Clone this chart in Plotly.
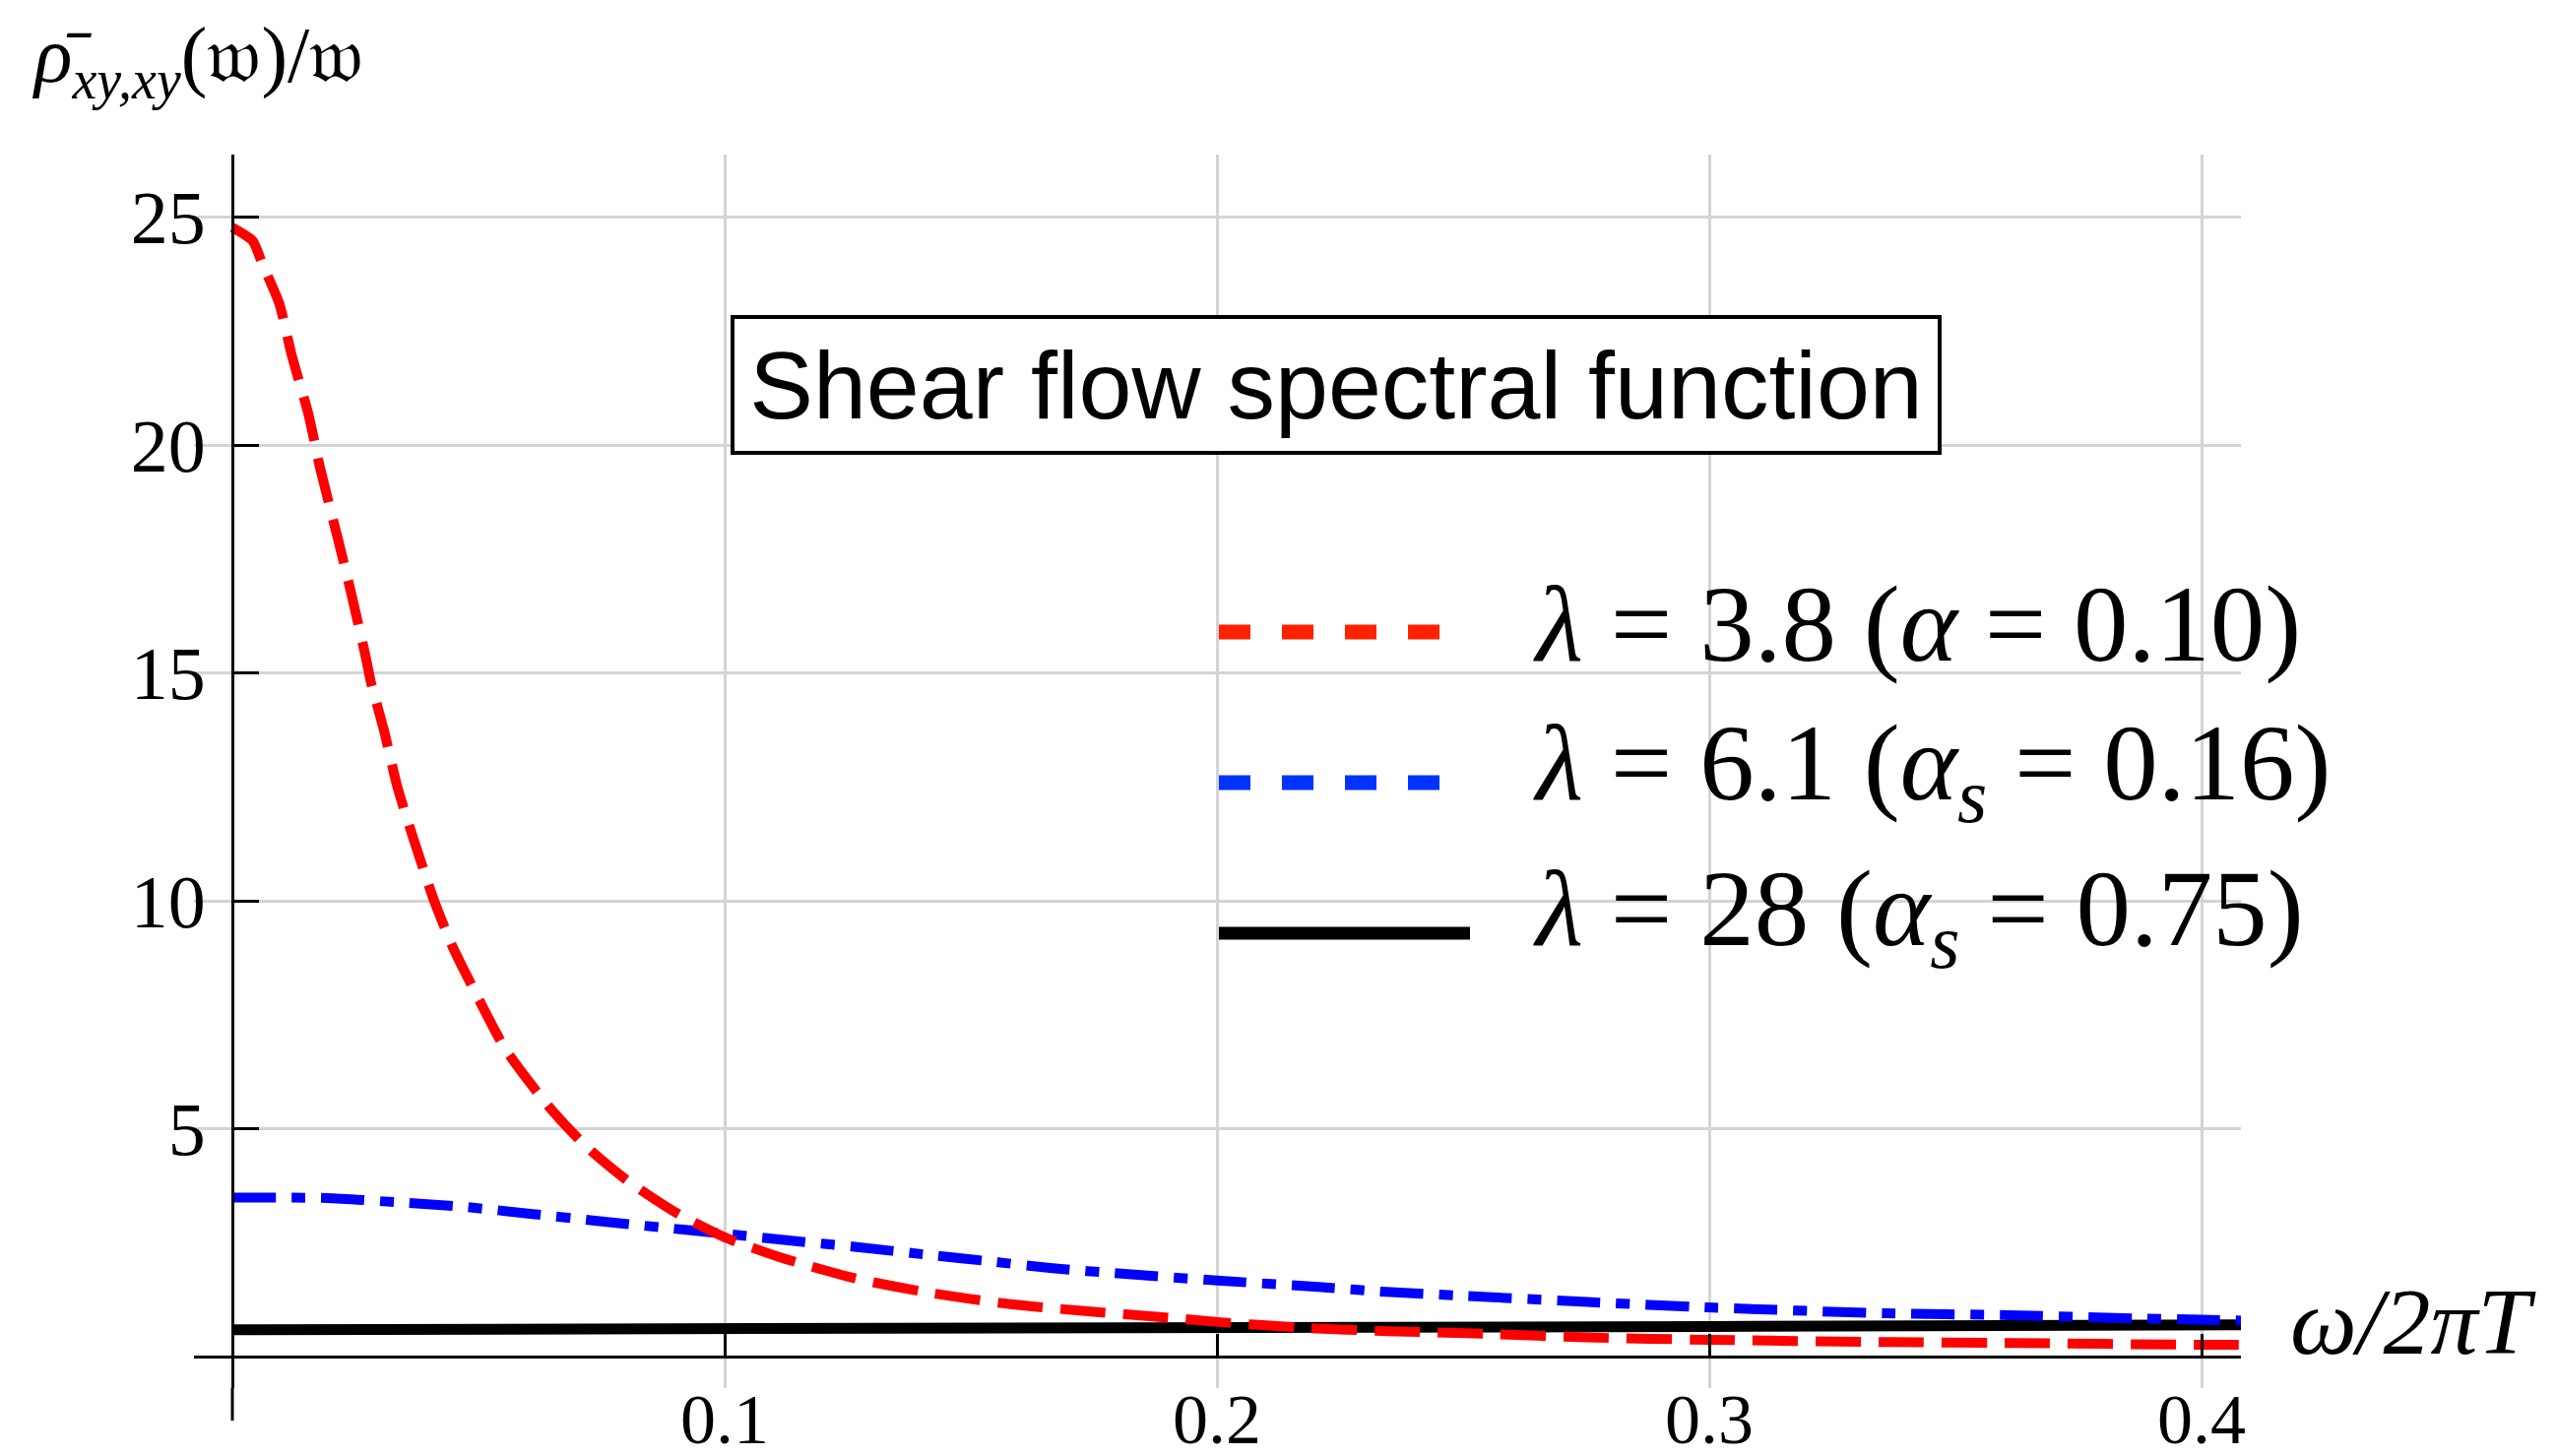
import plotly.graph_objects as go

# ---- data ----
x_red = [0.0, 0.0041, 0.0061, 0.0095, 0.0121, 0.0155, 0.0178, 0.0215, 0.0241, 0.0271,
         0.0281, 0.0308, 0.0335, 0.0368, 0.0408, 0.0448, 0.0488, 0.0555, 0.0641, 0.0715,
         0.0804, 0.0906, 0.0998, 0.111, 0.1264, 0.1416, 0.158, 0.1732, 0.1895, 0.2001,
         0.2181, 0.2344, 0.2548, 0.2752, 0.2998, 0.3357, 0.361, 0.4, 0.408]
y_red = [24.78, 24.49, 23.98, 23.12, 21.96, 20.66, 19.51, 17.92, 16.77, 15.35,
         14.82, 13.74, 12.51, 11.36, 10.06, 8.98, 8.11, 6.74, 5.51, 4.65,
         3.85, 3.13, 2.63, 2.19, 1.72, 1.40, 1.15, 1.00, 0.86, 0.76,
         0.63, 0.56, 0.50, 0.42, 0.37, 0.32, 0.30, 0.26, 0.26]

x_blue = [0.0, 0.0192, 0.0345, 0.0478, 0.061, 0.0732, 0.0866, 0.0998, 0.113, 0.1264,
          0.1416, 0.1548, 0.1666, 0.1806, 0.2001, 0.2206, 0.2344, 0.2508, 0.2752, 0.2998,
          0.3357, 0.361, 0.3862, 0.4, 0.408]
y_blue = [3.49, 3.48, 3.38, 3.28, 3.13, 2.99, 2.84, 2.70, 2.55, 2.41,
          2.23, 2.08, 1.94, 1.82, 1.67, 1.53, 1.42, 1.33, 1.20, 1.08,
          0.95, 0.91, 0.84, 0.81, 0.79]

x_black = [0.0, 0.1, 0.2, 0.3, 0.408]
y_black = [0.59, 0.60, 0.63, 0.66, 0.70]

x_ticks = [0.1, 0.2, 0.3, 0.4]
x_ticklabels = ["0.1", "0.2", "0.3", "0.4"]
y_ticks = [5, 10, 15, 20, 25]
y_ticklabels = ["5", "10", "15", "20", "25"]

series_names = ["λ = 3.8 (α = 0.10)", "λ = 6.1 (α_s = 0.16)", "λ = 28 (α_s = 0.75)"]
legend_labels = ["<i>λ</i> = 3.8 (<i>α</i> = 0.10)",
                 "<i>λ</i> = 6.1 (<i>α<sub>s</sub></i> = 0.16)",
                 "<i>λ</i> = 28 (<i>α<sub>s</sub></i> = 0.75)"]
title_text = "Shear flow spectral function"
y_title = "<i>ρ̄</i><sub><i>xy,xy</i></sub>(𝔴)/𝔴"
x_title = "<i>ω/2πT</i>"

# ---- layout geometry ----
W, H = 2596, 1479
L, R, T, B = 197, 2276, 157, 1410
x_range = [-0.0078, 0.408]
y_range = [-0.69, 26.38]


def px_x(p):
    return (p - L) / (R - L)


def px_y(p):
    return (B - p) / (B - T)


SERIF = "Liberation Serif, Times New Roman, serif"
SANS = "Liberation Sans, Arial, sans-serif"

fig = go.Figure()
fig.add_trace(go.Scatter(x=x_black, y=y_black, mode="lines", name=series_names[2],
                         line=dict(color="black", width=11)))
fig.add_trace(go.Scatter(x=x_blue, y=y_blue, mode="lines", name=series_names[1],
                         line=dict(color="#0000ff", width=10, dash="44px,16px,14px,16px",
                                   shape="spline", smoothing=0.6)))
fig.add_trace(go.Scatter(x=x_red, y=y_red, mode="lines", name=series_names[0],
                         line=dict(color="#ff0000", width=10, dash="46px,18px",
                                   shape="spline", smoothing=0.6)))

x_axis_pos = (0 - y_range[0]) / (y_range[1] - y_range[0])
y_axis_pos = (0 - x_range[0]) / (x_range[1] - x_range[0])

fig.update_layout(
    width=W, height=H,
    margin=dict(l=L, r=W - R, t=T, b=H - B, autoexpand=False),
    paper_bgcolor="white", plot_bgcolor="white",
    showlegend=False,
    xaxis=dict(range=x_range, tickvals=x_ticks, ticktext=x_ticklabels,
               showgrid=True, gridcolor="#d4d4d4", gridwidth=2.5, zeroline=False,
               showline=True, linecolor="black", linewidth=3,
               anchor="free", position=x_axis_pos,
               ticks="inside", ticklen=22, tickwidth=2.5, tickcolor="black",
               tickfont=dict(family=SERIF, size=72, color="black"),
               ticklabelstandoff=0),
    yaxis=dict(range=y_range, tickvals=y_ticks, ticktext=y_ticklabels,
               showgrid=True, gridcolor="#d4d4d4", gridwidth=2.5, zeroline=False,
               showline=True, linecolor="black", linewidth=3,
               anchor="free", position=y_axis_pos,
               ticks="inside", ticklen=25, tickwidth=3, tickcolor="black",
               tickfont=dict(family=SERIF, size=76, color="black"),
               ticklabelstandoff=11),
)

shapes = []
# extension of the vertical axis below the plot area
shapes.append(dict(type="line", xref="paper", yref="paper", x0=y_axis_pos, x1=y_axis_pos,
                   y0=0, y1=px_y(1443), line=dict(color="black", width=3)))
# legend samples
shapes.append(dict(type="line", xref="paper", yref="paper", x0=px_x(1238), x1=px_x(1462),
                   y0=px_y(642), y1=px_y(642), line=dict(color="#ff2200", width=15, dash="32px,32px")))
shapes.append(dict(type="line", xref="paper", yref="paper", x0=px_x(1238), x1=px_x(1462),
                   y0=px_y(795), y1=px_y(795), line=dict(color="#0033ff", width=15, dash="32px,32px")))
shapes.append(dict(type="line", xref="paper", yref="paper", x0=px_x(1238), x1=px_x(1493),
                   y0=px_y(948), y1=px_y(948), line=dict(color="black", width=13)))
fig.update_layout(shapes=shapes)

annotations = []
annotations.append(dict(xref="paper", yref="paper", x=px_x(30), y=px_y(62), xanchor="left",
                        yanchor="middle", showarrow=False, text=y_title,
                        font=dict(family=SERIF, size=80, color="black")))
annotations.append(dict(xref="paper", yref="paper", x=px_x(2324), y=px_y(1342), xanchor="left",
                        yanchor="middle", showarrow=False, text=x_title,
                        font=dict(family=SERIF, size=96, color="black")))
annotations.append(dict(xref="paper", yref="paper", x=px_x(1357), y=px_y(391), xanchor="center",
                        yanchor="middle", showarrow=False, text=title_text,
                        width=1222, height=134, borderpad=0, borderwidth=4,
                        bordercolor="black", bgcolor="white", align="center", valign="middle",
                        font=dict(family=SANS, size=97, color="black")))
for lab, yc in zip(legend_labels, [633, 782, 931]):
    annotations.append(dict(xref="paper", yref="paper", x=px_x(1555), y=px_y(yc), xanchor="left",
                            yanchor="middle", showarrow=False, text=lab,
                            font=dict(family=SERIF, size=111, color="black")))
fig.update_layout(annotations=annotations)

fig.write_html("out.html", config={"displayModeBar": False},
               post_script="document.body.style.margin='0px';")
